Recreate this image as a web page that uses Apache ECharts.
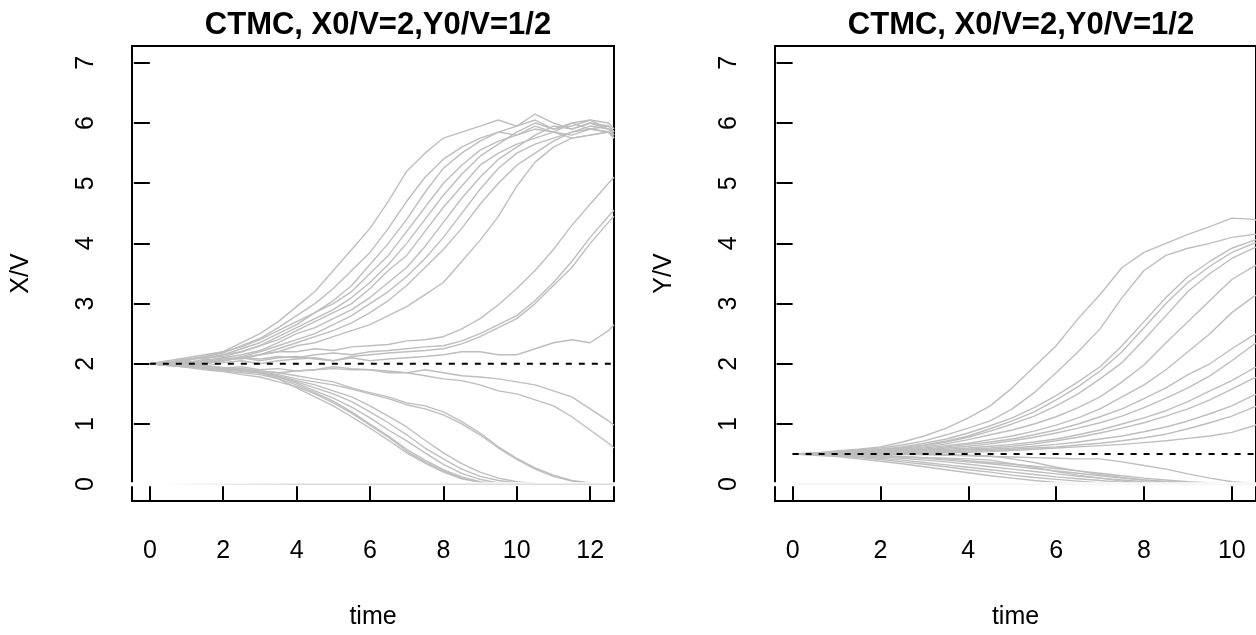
<!DOCTYPE html>
<html>
<head>
<meta charset="utf-8">
<script src="https://cdn.jsdelivr.net/npm/echarts@6/dist/echarts.min.js"></script>
<style>html,body{margin:0;padding:0;background:#fff}#c{width:1256px;height:635px}</style>
</head>
<body>
<div id="c"></div>
<script>
// ---------- data ----------
const titleText = 'CTMC, X0/V=2,Y0/V=1/2';
const xTicksL = [0, 2, 4, 6, 8, 10, 12];
const xTicksR = [0, 2, 4, 6, 8, 10];
const yTicks = [0, 1, 2, 3, 4, 5, 6, 7];
const refLevels = [2, 0.5];          // dashed reference lines (X0/V, Y0/V)
const zeroLineStart = [0.3, 0.0];    // where the grey zero line starts (left, right)

// time grid for X/V paths (left panel)
const timesX = [0,0.5,1,1.5,2,2.5,3,3.5,4,4.5,5,5.5,6,6.5,7,7.5,8,8.5,9,9.5,10,10.5,11,11.5,12,12.5,12.65];
// X/V paths
const xU1  = [2,2.05,2.1,2.15,2.2,2.35,2.5,2.7,2.95,3.2,3.55,3.9,4.25,4.7,5.2,5.5,5.75,5.85,5.95,6.05,5.95,6.15,6.0,5.9,6.0,5.95,5.85];
const xU10 = [2,2.03,2.07,2.12,2.18,2.3,2.42,2.6,2.8,3.0,3.25,3.55,3.85,4.25,4.7,5.1,5.4,5.6,5.75,5.85,5.8,5.95,5.85,5.75,5.8,5.85,5.75];
const xU2  = [2,2.02,2.08,2.1,2.15,2.25,2.35,2.5,2.65,2.85,3.05,3.3,3.65,4.0,4.4,4.85,5.25,5.5,5.7,5.85,5.95,6.05,5.9,6.0,6.05,5.9,5.85];
const xU3  = [2,1.98,2.05,2.12,2.2,2.28,2.4,2.55,2.7,2.85,3.0,3.2,3.5,3.8,4.2,4.6,5.0,5.3,5.55,5.7,5.8,5.9,5.85,6.0,5.9,5.85,5.8];
const xU4  = [2,2.03,1.98,2.08,2.15,2.2,2.3,2.45,2.6,2.75,2.9,3.1,3.35,3.65,4.0,4.4,4.8,5.15,5.45,5.65,5.85,6.0,5.9,5.95,6.05,6.0,5.9];
const xU5  = [2,2.0,2.06,2.1,2.12,2.2,2.3,2.4,2.55,2.7,2.85,3.0,3.25,3.55,3.8,4.2,4.6,4.95,5.3,5.5,5.65,5.75,5.85,5.8,5.9,5.85,5.75];
const xU6  = [2,2.04,2.0,2.05,2.1,2.15,2.22,2.35,2.5,2.6,2.75,2.9,3.1,3.35,3.6,3.95,4.35,4.75,5.1,5.4,5.6,5.8,5.95,5.9,6.0,5.9,5.8];
const xU7  = [2,1.97,2.02,2.07,2.05,2.12,2.2,2.3,2.4,2.5,2.65,2.8,3.0,3.2,3.45,3.75,4.1,4.5,4.9,5.25,5.5,5.65,5.75,5.85,5.9,5.95,5.85];
const xU9  = [2,2.01,1.99,2.04,2.08,2.1,2.15,2.25,2.35,2.45,2.55,2.68,2.85,3.05,3.3,3.6,3.9,4.25,4.65,5.0,5.3,5.5,5.7,5.85,5.95,5.9,5.8];
const xU8  = [2,2.0,1.98,2.03,2.05,2.1,2.15,2.2,2.3,2.35,2.45,2.55,2.65,2.8,2.95,3.15,3.35,3.7,4.05,4.45,4.95,5.35,5.6,5.75,5.8,5.85,5.75];
const xL1  = [2,1.98,2.03,2.05,2.1,2.08,2.15,2.2,2.2,2.25,2.22,2.28,2.3,2.32,2.38,2.4,2.45,2.58,2.75,2.98,3.25,3.55,3.9,4.3,4.65,5.0,5.1];
const xL2  = [2,2.02,1.97,2.0,2.05,2.1,2.08,2.12,2.1,2.15,2.18,2.15,2.2,2.22,2.25,2.28,2.3,2.38,2.5,2.65,2.8,3.05,3.35,3.7,4.1,4.45,4.55];
const xL3  = [2,1.99,2.01,1.96,2.02,2.05,2.0,2.05,2.08,2.1,2.05,2.12,2.15,2.18,2.2,2.22,2.25,2.33,2.45,2.6,2.75,3.0,3.3,3.6,4.0,4.35,4.45];
const xM1  = [2,2.01,2.04,2.0,2.06,2.1,2.05,2.1,2.12,2.08,2.05,2.1,2.05,2.08,2.1,2.12,2.15,2.2,2.2,2.15,2.15,2.25,2.35,2.4,2.35,2.55,2.65];
const xD1  = [2,1.98,1.95,1.97,1.93,1.95,1.9,1.92,1.88,1.9,1.95,1.92,1.9,1.88,1.85,1.9,1.85,1.8,1.78,1.75,1.7,1.65,1.55,1.45,1.25,1.05,0.98];
const xD2  = [2,1.97,1.96,1.93,1.9,1.92,1.88,1.85,1.88,1.9,1.92,1.9,1.9,1.85,1.85,1.8,1.75,1.72,1.65,1.55,1.5,1.4,1.3,1.12,0.9,0.68,0.6];
const xZ1  = [2,1.98,1.95,1.93,1.9,1.88,1.85,1.75,1.6,1.45,1.3,1.12,0.93,0.73,0.52,0.35,0.2,0.09,0.03,0,0,0,0,0,0,0,0];
const xZ2  = [2,1.99,1.97,1.92,1.88,1.85,1.82,1.75,1.65,1.52,1.38,1.2,1.0,0.8,0.58,0.4,0.24,0.12,0.04,0,0,0,0,0,0,0,0];
const xZ3  = [2,1.97,1.94,1.9,1.87,1.82,1.78,1.7,1.62,1.5,1.35,1.18,0.98,0.78,0.55,0.37,0.22,0.1,0.03,0,0,0,0,0,0,0,0];
const xZ4  = [2,1.98,1.96,1.95,1.9,1.88,1.85,1.78,1.7,1.6,1.5,1.37,1.2,1.02,0.82,0.6,0.42,0.25,0.13,0.06,0.02,0,0,0,0,0,0];
const xZ5  = [2,2.0,1.97,1.96,1.93,1.9,1.87,1.8,1.72,1.65,1.55,1.45,1.3,1.13,0.95,0.73,0.52,0.34,0.2,0.1,0.04,0.01,0,0,0,0,0];
const xZ8  = [2,1.99,1.96,1.94,1.92,1.88,1.85,1.78,1.68,1.55,1.43,1.28,1.1,0.9,0.72,0.52,0.33,0.18,0.08,0.02,0,0,0,0,0,0,0];
const xZ6  = [2,1.98,1.97,1.95,1.93,1.92,1.88,1.85,1.8,1.75,1.7,1.6,1.52,1.45,1.35,1.3,1.2,1.04,0.85,0.62,0.43,0.27,0.15,0.06,0.02,0,0];
const xZ7  = [2,2.01,1.98,1.96,1.94,1.9,1.87,1.82,1.75,1.7,1.65,1.58,1.5,1.42,1.32,1.25,1.15,1.0,0.82,0.6,0.41,0.25,0.13,0.05,0.01,0,0];
const xPaths = [xU1,xU10,xU2,xU3,xU4,xU5,xU6,xU7,xU9,xU8,xL1,xL2,xL3,xM1,xD1,xD2,xZ1,xZ2,xZ3,xZ4,xZ5,xZ8,xZ6,xZ7];

// time grid for Y/V paths (right panel)
const timesY = [0,0.5,1,1.5,2,2.5,3,3.5,4,4.5,5,5.5,6,6.5,7,7.5,8,8.5,9,9.5,10,10.5,10.6];
const yR1  = [0.5,0.52,0.55,0.58,0.62,0.7,0.8,0.93,1.1,1.3,1.6,1.95,2.3,2.75,3.15,3.6,3.85,4.0,4.15,4.28,4.42,4.4,4.38];
const yR2  = [0.5,0.51,0.54,0.57,0.6,0.65,0.72,0.82,0.93,1.05,1.25,1.52,1.85,2.2,2.58,3.1,3.55,3.8,3.92,4.0,4.1,4.15,4.15];
const yR3  = [0.5,0.5,0.53,0.55,0.58,0.62,0.68,0.75,0.85,0.97,1.1,1.27,1.47,1.7,1.95,2.3,2.7,3.1,3.45,3.7,3.92,4.05,4.07];
const yR4  = [0.5,0.52,0.51,0.54,0.57,0.6,0.65,0.72,0.8,0.92,1.05,1.2,1.4,1.62,1.88,2.2,2.6,3.0,3.35,3.62,3.85,4.0,4.02];
const yR5  = [0.5,0.49,0.52,0.55,0.56,0.6,0.64,0.7,0.78,0.88,1.0,1.13,1.3,1.5,1.75,2.02,2.4,2.8,3.2,3.5,3.75,3.92,3.95];
const yR6  = [0.5,0.5,0.52,0.53,0.55,0.58,0.62,0.67,0.74,0.82,0.9,1.0,1.12,1.27,1.45,1.7,1.98,2.35,2.7,3.05,3.4,3.62,3.65];
const yR7  = [0.5,0.51,0.5,0.52,0.54,0.57,0.6,0.64,0.68,0.74,0.8,0.88,0.98,1.1,1.25,1.45,1.65,1.9,2.2,2.5,2.85,3.12,3.15];
const yR8  = [0.5,0.5,0.51,0.53,0.55,0.56,0.58,0.62,0.66,0.7,0.75,0.82,0.9,1.0,1.12,1.25,1.42,1.6,1.82,2.0,2.25,2.48,2.5];
const yR9  = [0.5,0.49,0.5,0.52,0.53,0.55,0.57,0.6,0.63,0.67,0.72,0.78,0.85,0.93,1.02,1.13,1.27,1.43,1.6,1.8,2.05,2.32,2.35];
const yR10 = [0.5,0.5,0.52,0.51,0.53,0.55,0.56,0.58,0.6,0.63,0.66,0.7,0.75,0.82,0.9,1.0,1.1,1.22,1.37,1.55,1.72,1.93,1.95];
const yR11 = [0.5,0.51,0.5,0.5,0.52,0.53,0.55,0.56,0.58,0.6,0.63,0.67,0.72,0.78,0.85,0.93,1.02,1.13,1.25,1.4,1.58,1.76,1.78];
const yR12 = [0.5,0.5,0.49,0.5,0.51,0.52,0.53,0.55,0.57,0.58,0.6,0.63,0.66,0.7,0.75,0.8,0.87,0.95,1.05,1.17,1.3,1.48,1.5];
const yR13 = [0.5,0.49,0.5,0.51,0.5,0.51,0.52,0.53,0.55,0.56,0.58,0.6,0.62,0.65,0.68,0.72,0.77,0.83,0.92,1.02,1.13,1.28,1.3];
const yR14 = [0.5,0.5,0.51,0.5,0.49,0.5,0.51,0.52,0.53,0.54,0.56,0.58,0.6,0.62,0.64,0.66,0.69,0.72,0.76,0.8,0.86,0.97,1.0];
const yY1  = [0.5,0.48,0.46,0.42,0.38,0.34,0.29,0.24,0.19,0.14,0.1,0.06,0.03,0.01,0,0,0,0,0,0,0,0,0];
const yY2  = [0.5,0.49,0.47,0.44,0.41,0.37,0.33,0.29,0.24,0.2,0.15,0.11,0.08,0.05,0.02,0,0,0,0,0,0,0,0];
const yY3  = [0.5,0.5,0.48,0.46,0.43,0.4,0.36,0.32,0.28,0.24,0.2,0.16,0.12,0.09,0.06,0.03,0.01,0,0,0,0,0,0];
const yY4  = [0.5,0.51,0.49,0.47,0.45,0.43,0.4,0.37,0.33,0.29,0.25,0.21,0.17,0.13,0.1,0.07,0.04,0.02,0,0,0,0,0];
const yY5  = [0.5,0.5,0.5,0.49,0.47,0.45,0.43,0.4,0.37,0.34,0.3,0.26,0.22,0.18,0.14,0.1,0.07,0.04,0.02,0,0,0,0];
const yY6  = [0.5,0.51,0.5,0.49,0.48,0.46,0.44,0.42,0.39,0.36,0.33,0.3,0.26,0.22,0.18,0.14,0.1,0.07,0.04,0.02,0,0,0];
const yY7  = [0.5,0.5,0.51,0.5,0.5,0.49,0.49,0.48,0.47,0.46,0.45,0.44,0.43,0.42,0.42,0.37,0.31,0.25,0.17,0.1,0.04,0.01,0];
const yY8  = [0.5,0.5,0.52,0.51,0.5,0.5,0.49,0.49,0.48,0.47,0.42,0.36,0.28,0.22,0.16,0.11,0.07,0.04,0.02,0,0,0,0];
const yY9  = [0.5,0.49,0.48,0.47,0.46,0.45,0.44,0.43,0.42,0.4,0.34,0.28,0.21,0.15,0.1,0.05,0.02,0,0,0,0,0,0];
const yPaths = [yR1,yR2,yR3,yR4,yR5,yR6,yR7,yR8,yR9,yR10,yR11,yR12,yR13,yR14,yY1,yY2,yY3,yY4,yY5,yY6,yY7,yY8,yY9];

// ---------- chart ----------
const FONT = '"Liberation Sans", Arial, Helvetica, sans-serif';
const GRAY = '#bebebe';
const X_L = [-0.486, 12.65];
const X_R = [-0.401, 10.55];
const Y_R = [-0.28, 7.28];

function xAxisCfg(idx, range, ticks) {
  return {
    gridIndex: idx, type: 'value', min: range[0], max: range[1],
    axisLine: { show: false }, splitLine: { show: false },
    axisTick: { show: true, inside: false, length: 16, customValues: ticks, lineStyle: { color: '#000', width: 2 } },
    axisLabel: { customValues: ticks, margin: 38, fontSize: 25, color: '#000', fontFamily: FONT },
    name: 'time', nameLocation: 'middle', nameGap: 104,
    nameTextStyle: { fontSize: 25, color: '#000', fontFamily: FONT }
  };
}
function yAxisCfg(idx, name) {
  return {
    gridIndex: idx, type: 'value', min: Y_R[0], max: Y_R[1],
    axisLine: { show: false }, splitLine: { show: false },
    axisTick: { show: true, inside: false, length: 16, customValues: yTicks, lineStyle: { color: '#000', width: 2 } },
    axisLabel: { customValues: yTicks, rotate: 90, margin: 33, fontSize: 25, color: '#000', fontFamily: FONT },
    name: name, nameLocation: 'middle', nameGap: 98, nameRotate: 90,
    nameTextStyle: { fontSize: 25, color: '#000', fontFamily: FONT }
  };
}

const series = [];
function addPaths(paths, times, idx) {
  paths.forEach(p => {
    series.push({
      type: 'line', xAxisIndex: idx, yAxisIndex: idx, symbol: 'none', silent: true, z: 2,
      lineStyle: { color: GRAY, width: 1.4 },
      data: times.map((t, i) => [t, p[i]])
    });
  });
}
addPaths(xPaths, timesX, 0);
addPaths(yPaths, timesY, 1);

[X_L, X_R].forEach((range, idx) => {
  // dashed reference line from t = 0
  series.push({
    type: 'line', xAxisIndex: idx, yAxisIndex: idx, symbol: 'none', silent: true, z: 3,
    lineStyle: { color: '#000', width: 2, type: [6, 7] },
    data: [[0, refLevels[idx]], [range[1], refLevels[idx]]]
  });
  // white band at zero (covers the box edge)
  series.push({
    type: 'line', xAxisIndex: idx, yAxisIndex: idx, symbol: 'none', silent: true, z: 4, clip: false,
    lineStyle: { color: '#fff', width: 4, cap: 'square' },
    data: [[range[0], 0], [range[1], 0]]
  });
  // thin grey zero line
  series.push({
    type: 'line', xAxisIndex: idx, yAxisIndex: idx, symbol: 'none', silent: true, z: 5,
    lineStyle: {
      width: 1,
      color: idx === 0 ? { type: 'linear', x: 0, y: 0, x2: 1, y2: 0,
        colorStops: [{ offset: 0, color: 'rgba(200,200,200,0)' }, { offset: 0.3, color: '#c8c8c8' }, { offset: 1, color: '#c8c8c8' }] }
        : '#efefef'
    },
    data: [[zeroLineStart[idx], 0], [range[1], 0]]
  });
});

const chart = echarts.init(document.getElementById('c'), null, { renderer: 'canvas' });
chart.setOption({
  animation: false,
  backgroundColor: '#fff',
  title: [
    { text: titleText, left: 373, textAlign: 'center', top: 5,
      textStyle: { fontSize: 31, fontWeight: 'bold', color: '#000', fontFamily: FONT } },
    { text: titleText, left: 1016, textAlign: 'center', top: 5,
      textStyle: { fontSize: 31, fontWeight: 'bold', color: '#000', fontFamily: FONT } }
  ],
  grid: [
    { left: 132, top: 46, width: 482, height: 463, show: true, borderColor: '#000', borderWidth: 2, backgroundColor: '#fff' },
    { left: 775, top: 46, width: 483, height: 463, show: true, borderColor: '#000', borderWidth: 2, backgroundColor: '#fff' }
  ],
  xAxis: [xAxisCfg(0, X_L, xTicksL), xAxisCfg(1, X_R, xTicksR)],
  yAxis: [yAxisCfg(0, 'X/V'), yAxisCfg(1, 'Y/V')],
  series: series
});
</script>
</body>
</html>
